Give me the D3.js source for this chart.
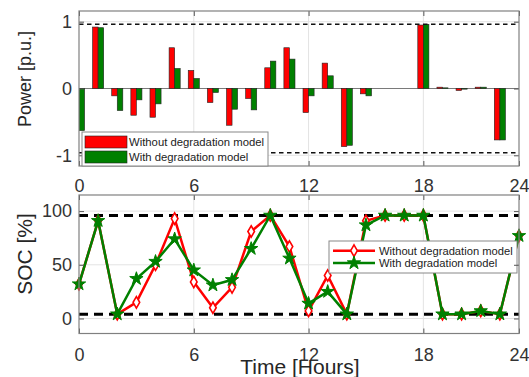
<!DOCTYPE html>
<html>
<head>
<meta charset="utf-8">
<script src="https://cdn.jsdelivr.net/npm/d3@7"></script>
<style>
  body { margin: 0; background: #fff; }
  svg text { font-family: "Liberation Sans", Arial, Helvetica, sans-serif; }
</style>
</head>
<body>
<svg id="chart" width="529" height="377"></svg>
<script>
// Hourly battery schedule: 24 samples, ticks labelled in hours
const hours = d3.range(24);
const tickPositions = [0, 6, 12, 18, 23];
const tickLabels = ["0", "6", "12", "18", "24"];
const seriesNames = ["Without degradation model", "With degradation model"];

// Battery power [p.u.] (positive = discharge)
const powerWithout = [-0.63, 0.92, -0.11, -0.40, -0.43, 0.61, 0.27, -0.21, -0.55, -0.15, 0.31, 0.61,
                      -0.36, 0.38, -0.87, -0.08, 0, 0, 0.95, 0.02, -0.03, 0.02, -0.77, 0];
const powerWith    = [-0.63, 0.91, -0.33, -0.17, -0.23, 0.30, 0.15, -0.06, -0.31, -0.32, 0.41, 0.44,
                      -0.11, 0.19, -0.85, -0.11, 0, 0, 0.96, 0.01, -0.01, 0.02, -0.77, 0];
const powerLimits  = [-0.96, 0.96];
const powerTicks   = [-1, 0, 1];

// State of charge [%]
const socWithout = [32, 91, 4, 15, 50, 93, 34, 10, 29, 81, 96, 67, 7, 40, 4, 91, 96, 96, 96, 4, 4, 7, 4, 77];
const socWith    = [32, 91, 4, 37, 53, 74, 45, 31, 36, 65, 96, 56, 14, 25, 4, 87, 96, 96, 96, 4, 4, 7, 4, 77];
const socLimits  = [4, 96];
const socTicks   = [0, 50, 100];

const RED = "#ff0000", GREEN = "#008000";
const FONT = '"Liberation Sans", Arial, Helvetica, sans-serif';

const svg = d3.select("#chart");
const x = d3.scaleLinear().domain([0, 23]).range([79, 519]);
const yP = d3.scaleLinear().domain([-1.16, 1.16]).range([166, 11]);
const yS = d3.scaleLinear().domain([-14, 115]).range([333.5, 195]);

function clipFor(id, y) {
  svg.append("clipPath").attr("id", id).append("rect")
    .attr("x", x.range()[0]).attr("y", y.range()[1])
    .attr("width", x.range()[1] - x.range()[0])
    .attr("height", y.range()[0] - y.range()[1]);
}
clipFor("clipP", yP);
clipFor("clipS", yS);

function grid(y, yTicks) {
  const g = svg.append("g").attr("stroke", "#e3e3e3").attr("stroke-width", 1);
  g.selectAll(".gx").data(tickPositions.slice(1, -1)).join("line")
    .attr("x1", d => x(d)).attr("x2", d => x(d))
    .attr("y1", y.range()[1]).attr("y2", y.range()[0]);
  g.selectAll(".gy").data(yTicks).join("line")
    .attr("x1", x.range()[0]).attr("x2", x.range()[1])
    .attr("y1", d => y(d)).attr("y2", d => y(d));
}

function axes(y, yTicks, xPad) {
  const left = x.range()[0], right = x.range()[1];
  const top = y.range()[1], bottom = y.range()[0];
  const fmt = d => String(d);
  const aL = svg.append("g").attr("transform", `translate(${left},0)`)
    .call(d3.axisLeft(y).tickValues(yTicks).tickFormat(fmt).tickSize(-5).tickPadding(7));
  const aR = svg.append("g").attr("transform", `translate(${right},0)`)
    .call(d3.axisRight(y).tickValues(yTicks).tickFormat("").tickSize(-5));
  const aB = svg.append("g").attr("transform", `translate(0,${bottom})`)
    .call(d3.axisBottom(x).tickValues(tickPositions).tickFormat((d, i) => tickLabels[i]).tickSize(-5).tickPadding(xPad));
  const aT = svg.append("g").attr("transform", `translate(0,${top})`)
    .call(d3.axisTop(x).tickValues(tickPositions).tickFormat("").tickSize(-5));
  [aL, aR, aB, aT].forEach(a => {
    a.select(".domain").remove();
    a.selectAll("line").attr("stroke", "#555");
    a.selectAll("text").attr("font-size", 18).attr("fill", "#333").attr("font-family", FONT);
  });
  svg.append("rect").attr("x", left).attr("y", top)
    .attr("width", right - left).attr("height", bottom - top)
    .attr("fill", "none").attr("stroke", "#808080").attr("stroke-width", 1.2);
}

// ---------- Power subplot ----------
grid(yP, powerTicks);
const step = x(1) - x(0);
const bw = step * 0.29;
const bars = svg.append("g").attr("clip-path", "url(#clipP)");
// bar baseline
bars.append("line").attr("x1", x.range()[0]).attr("x2", x.range()[1])
  .attr("y1", yP(0)).attr("y2", yP(0)).attr("stroke", "#7a7a7a").attr("stroke-width", 1.2);
[[powerWithout, RED, -1], [powerWith, GREEN, 0]].forEach(([vals, col, off]) => {
  bars.selectAll(null).data(hours).join("rect")
    .attr("x", i => x(i) + off * bw)
    .attr("y", i => yP(Math.max(0, vals[i])))
    .attr("width", bw)
    .attr("height", i => Math.abs(yP(vals[i]) - yP(0)))
    .attr("fill", col).attr("stroke", "#222").attr("stroke-width", 0.6);
});
bars.selectAll(null).data(powerLimits).join("line")
  .attr("x1", x(0)).attr("x2", x(23))
  .attr("y1", d => yP(d)).attr("y2", d => yP(d))
  .attr("stroke", "#111").attr("stroke-width", 1.5).attr("stroke-dasharray", "4.5,3.5");
axes(yP, powerTicks, 13.6);

// power legend
const lp = svg.append("g");
lp.append("rect").attr("x", 82).attr("y", 132).attr("width", 186).attr("height", 34)
  .attr("fill", "#fff").attr("stroke", "#888").attr("stroke-width", 1);
[[RED, 136], [GREEN, 151]].forEach(([col, yy], k) => {
  lp.append("rect").attr("x", 85).attr("y", yy).attr("width", 42).attr("height", 12)
    .attr("fill", col).attr("stroke", "#222").attr("stroke-width", 0.6);
  lp.append("text").attr("x", 129).attr("y", yy + 10.3).attr("font-size", 11.3)
    .attr("fill", "#222").text(seriesNames[k]);
});

svg.append("text").attr("transform", "translate(25,79) rotate(-90)")
  .attr("text-anchor", "middle").attr("dy", "0.35em").attr("font-size", 18)
  .attr("fill", "#262626").text("Power [p.u.]");

// ---------- SOC subplot ----------
grid(yS, socTicks);
const plotS = svg.append("g").attr("clip-path", "url(#clipS)");
plotS.selectAll(null).data(socLimits).join("line")
  .attr("x1", x(0)).attr("x2", x(23))
  .attr("y1", d => yS(d)).attr("y2", d => yS(d))
  .attr("stroke", "#000").attr("stroke-width", 3).attr("stroke-dasharray", "9,6");

const line = d3.line().x((d, i) => x(i)).y(d => yS(d));
const diamond = d3.symbol().type(d3.symbolDiamond).size(38);
const star = d3.symbol().type(d3.symbolStar).size(55);

const marks = svg.append("g");
marks.append("path").datum(socWithout).attr("d", line)
  .attr("fill", "none").attr("stroke", RED).attr("stroke-width", 2.5);
marks.selectAll(null).data(socWithout).join("path")
  .attr("transform", (d, i) => `translate(${x(i)},${yS(d)})`)
  .attr("d", diamond).attr("fill", "#fff").attr("stroke", RED).attr("stroke-width", 1.6);
marks.append("path").datum(socWith).attr("d", line)
  .attr("fill", "none").attr("stroke", GREEN).attr("stroke-width", 2.5);
marks.selectAll(null).data(socWith).join("path")
  .attr("transform", (d, i) => `translate(${x(i)},${yS(d)})`)
  .attr("d", star).attr("fill", GREEN).attr("stroke", GREEN).attr("stroke-width", 1);

// SOC legend
const ls = svg.append("g");
ls.append("rect").attr("x", 329).attr("y", 241).attr("width", 188).attr("height", 32)
  .attr("fill", "#fff").attr("stroke", "#888").attr("stroke-width", 1);
[[RED, 250.7, diamond, "#fff", 1.6], [GREEN, 263, star, GREEN, 1]].forEach(([col, yy, sym, fill, sw], k) => {
  ls.append("line").attr("x1", 333).attr("x2", 375).attr("y1", yy).attr("y2", yy)
    .attr("stroke", col).attr("stroke-width", 2.5);
  ls.append("path").attr("transform", `translate(354,${yy})`).attr("d", sym)
    .attr("fill", fill).attr("stroke", col).attr("stroke-width", sw);
  ls.append("text").attr("x", 379).attr("y", yy + 4).attr("font-size", 11.2)
    .attr("fill", "#222").text(seriesNames[k]);
});

axes(yS, socTicks, 14.6);

svg.append("text").attr("transform", "translate(25,254) rotate(-90)")
  .attr("text-anchor", "middle").attr("dy", "0.35em").attr("font-size", 21)
  .attr("fill", "#262626").text("SOC [%]");
svg.append("text").attr("x", 300).attr("y", 374).attr("text-anchor", "middle")
  .attr("font-size", 21).attr("fill", "#262626").text("Time [Hours]");
</script>
</body>
</html>
